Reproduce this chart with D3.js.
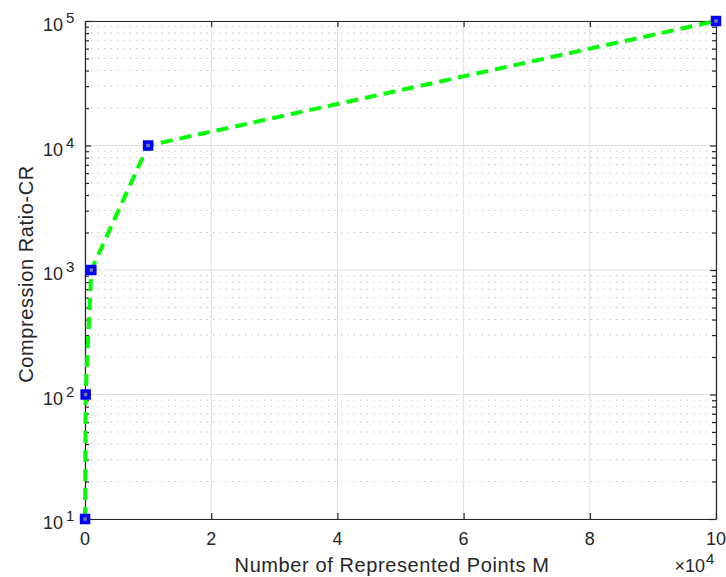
<!DOCTYPE html>
<meta charset="utf-8" />
<script src="https://d3js.org/d3.v7.min.js"></script>
<style>
  body { margin: 0; background: #fff; }
  text { font-family: "Liberation Sans", Arial, sans-serif; fill: #262626; }
</style>
<div id="chart"></div>
<script>
  var width = 726;
  var height = 577;

  // data
  var pointsM = [10, 100, 1000, 10000, 100000];
  var ratioCR = [10, 100, 1000, 10000, 100000];
  var xTicks = [0, 20000, 40000, 60000, 80000, 100000];
  var yTicks = [10, 100, 1000, 10000, 100000];

  var pLeft = 85, pRight = 716, pTop = 21, pBottom = 519;

  var svg = d3.select("#chart").append("svg")
    .attr("width", width)
    .attr("height", height);

  var x = d3.scaleLinear().domain([0, 100000]).range([pLeft, pRight]);
  var y = d3.scaleLog().domain([10, 100000]).range([pBottom, pTop]);

  // minor values 2..9 per decade
  var minor = [];
  yTicks.slice(0, -1).forEach(function(d) {
    for (var k = 2; k <= 9; k++) minor.push(d * k);
  });

  // minor grid (dotted)
  svg.append("g").selectAll("line").data(minor).enter().append("line")
    .attr("x1", pLeft).attr("x2", pRight)
    .attr("y1", function(d) { return y(d); })
    .attr("y2", function(d) { return y(d); })
    .attr("stroke", "#bdbdbd")
    .attr("stroke-width", 1)
    .attr("stroke-dasharray", "1.2,5.2");

  // major grid
  svg.append("g").selectAll("line").data(yTicks).enter().append("line")
    .attr("x1", pLeft).attr("x2", pRight)
    .attr("y1", function(d) { return y(d); })
    .attr("y2", function(d) { return y(d); })
    .attr("stroke", "#e0e0e0");
  svg.append("g").selectAll("line").data(xTicks).enter().append("line")
    .attr("y1", pTop).attr("y2", pBottom)
    .attr("x1", function(d) { return x(d); })
    .attr("x2", function(d) { return x(d); })
    .attr("stroke", "#e0e0e0");

  // axes box + ticks
  var axisCol = "#262626";
  function styleAxis(g) {
    g.selectAll("line,path").attr("stroke", axisCol).attr("stroke-width", 1.2);
  }
  svg.append("g").attr("transform", "translate(0," + pBottom + ")")
    .call(d3.axisBottom(x).tickValues(xTicks).tickSizeInner(-6).tickSizeOuter(0).tickFormat(""))
    .call(styleAxis);
  svg.append("g").attr("transform", "translate(0," + pTop + ")")
    .call(d3.axisTop(x).tickValues(xTicks).tickSizeInner(-6).tickSizeOuter(0).tickFormat(""))
    .call(styleAxis);
  svg.append("g").attr("transform", "translate(" + pLeft + ",0)")
    .call(d3.axisLeft(y).tickValues(yTicks).tickSizeInner(-6).tickSizeOuter(0).tickFormat(""))
    .call(styleAxis);
  svg.append("g").attr("transform", "translate(" + pRight + ",0)")
    .call(d3.axisRight(y).tickValues(yTicks).tickSizeInner(-6).tickSizeOuter(0).tickFormat(""))
    .call(styleAxis);
  svg.append("g").attr("transform", "translate(" + pLeft + ",0)")
    .call(d3.axisLeft(y).tickValues(minor).tickSizeInner(-4).tickSizeOuter(0).tickFormat(""))
    .call(function(g) { g.select("path").remove(); styleAxis(g); });
  svg.append("g").attr("transform", "translate(" + pRight + ",0)")
    .call(d3.axisRight(y).tickValues(minor).tickSizeInner(-4).tickSizeOuter(0).tickFormat(""))
    .call(function(g) { g.select("path").remove(); styleAxis(g); });

  // x tick labels
  svg.append("g").selectAll("text").data(xTicks).enter().append("text")
    .attr("x", function(d) { return x(d); })
    .attr("y", pBottom + 26)
    .attr("text-anchor", "middle")
    .style("font-size", "18px")
    .text(function(d) { return d / 10000; });

  // y tick labels 10^n
  svg.append("g").selectAll("text").data(yTicks).enter().append("text")
    .attr("x", 63)
    .attr("y", function(d) { return y(d) + 10; })
    .attr("text-anchor", "end")
    .style("font-size", "18px")
    .text("10");
  svg.append("g").selectAll("text").data(yTicks).enter().append("text")
    .attr("x", 66)
    .attr("y", function(d) { return y(d) + 2; })
    .style("font-size", "15px")
    .text(function(d) { return Math.round(Math.log10(d)); });

  // x multiplier
  svg.append("text").attr("x", 705).attr("y", 572).attr("text-anchor", "end")
    .style("font-size", "18px").text("\u00d710");
  svg.append("text").attr("x", 706).attr("y", 564)
    .style("font-size", "15px").text("4");

  // axis labels
  svg.append("text").attr("x", 392).attr("y", 572)
    .attr("text-anchor", "middle").style("font-size", "20px")
    .style("letter-spacing", "0.6px")
    .text("Number of Represented Points M");
  svg.append("text")
    .attr("transform", "translate(33,274) rotate(-90)")
    .attr("text-anchor", "middle").style("font-size", "20px")
    .style("letter-spacing", "0.6px")
    .text("Compression Ratio-CR");

  // line
  var data = pointsM.map(function(m, i) { return { m: m, cr: ratioCR[i] }; });
  var line = d3.line()
    .x(function(d) { return x(d.m); })
    .y(function(d) { return y(d.cr); });
  svg.append("path").datum(data)
    .attr("d", line)
    .attr("fill", "none")
    .attr("stroke", "#00ff00")
    .attr("stroke-width", 4)
    .attr("stroke-dasharray", "12,7");

  // markers
  var mk = svg.append("g").selectAll("g").data(data).enter().append("g")
    .attr("transform", function(d) { return "translate(" + x(d.m) + "," + y(d.cr) + ")"; });
  mk.append("rect").attr("x", -3.5).attr("y", -3.5).attr("width", 7).attr("height", 7)
    .attr("fill", "#7878a0").attr("stroke", "#0000ff").attr("stroke-width", 3.5);
</script>
